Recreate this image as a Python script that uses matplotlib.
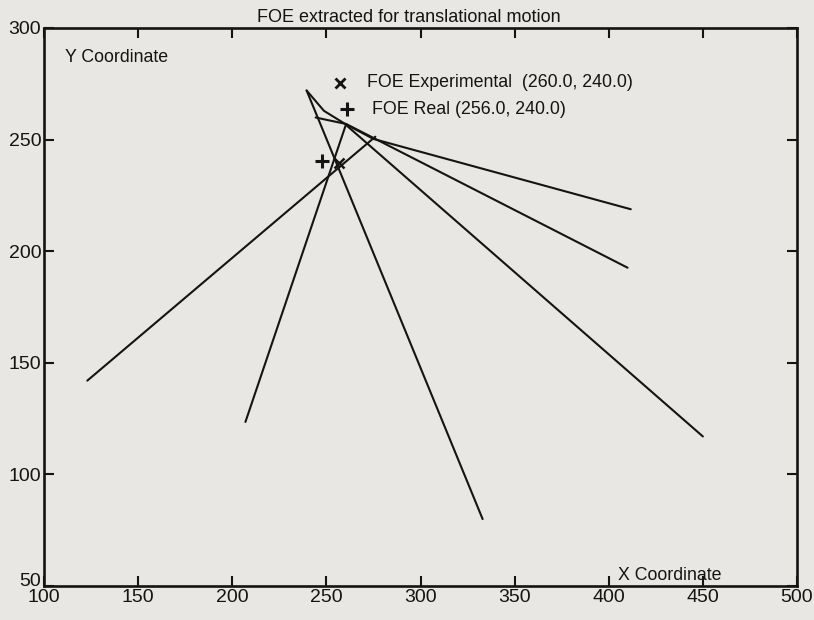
import matplotlib
matplotlib.use("Agg")
import matplotlib.pyplot as plt
from matplotlib.transforms import ScaledTranslation

plt.rcParams['font.family'] = ['Liberation Sans', 'DejaVu Sans']

# ---- data ----
title = "FOE extracted for translational motion"
x_label = "X Coordinate"
y_label = "Y Coordinate"
x_ticks = [100, 150, 200, 250, 300, 350, 400, 450, 500]
y_ticks = [50, 100, 150, 200, 250, 300]

# flow lines (polylines)
line1_x = [123, 276]
line1_y = [142, 251.3]
line2_x = [207, 260.5]
line2_y = [123.5, 257]
line3_x = [239.5, 333]
line3_y = [272, 80]
upper_x = [239.5, 248.7, 260, 275, 411.7]
upper_y = [272, 262.9, 257, 250.3, 218.8]
inner_x = [244.3, 260.5]
inner_y = [259.9, 257]
line4_x = [260.5, 410]
line4_y = [257, 192.6]
line6_x = [260.5, 450]
line6_y = [256.5, 117]

foe_real = (247.6, 240.3)
foe_exp = (256.6, 239.6)
legend_exp_text = "FOE Experimental  (260.0, 240.0)"
legend_real_text = "FOE Real (256.0, 240.0)"

bg = '#e9e7e3'
ink = '#141414'

fig = plt.figure(figsize=(8.14, 6.2), dpi=100, facecolor=bg)
ax = fig.add_axes([44 / 814, 1 - 586 / 620, (797 - 44) / 814, (586 - 28) / 620])
ax.set_facecolor(bg)

for xs, ys in [(line1_x, line1_y), (line2_x, line2_y), (line3_x, line3_y),
               (upper_x, upper_y), (inner_x, inner_y), (line4_x, line4_y),
               (line6_x, line6_y)]:
    ax.plot(xs, ys, color=ink, lw=1.5, solid_joinstyle='round', solid_capstyle='round')

ax.plot([foe_real[0]], [foe_real[1]], marker='+', ms=10, mew=2.2, color=ink, ls='none')
ax.plot([foe_exp[0]], [foe_exp[1]], marker='x', ms=7, mew=1.8, color=ink, ls='none')

# legend-like annotations
ax.plot([257.5], [275.4], marker='x', ms=7, mew=2.0, color=ink, ls='none')
ax.text(271.5, 275.4, legend_exp_text, fontsize=12.8, va='center', ha='left', color=ink)
ax.plot([261], [263.7], marker='+', ms=10, mew=2.2, color=ink, ls='none')
ax.text(274.5, 263.7, legend_real_text, fontsize=12.8, va='center', ha='left', color=ink)

ax.text(111, 286.6, y_label, fontsize=12.8, va='center', ha='left', color=ink)
ax.text(405, 54.8, x_label, fontsize=12.8, va='center', ha='left', color=ink)
ax.text(0.484, 1.004, title, transform=ax.transAxes, fontsize=13, ha='center', va='bottom', color=ink)

ax.set_xlim(100, 500)
ax.set_ylim(50, 300)
ax.set_xticks(x_ticks)
ax.set_yticks(y_ticks)
ax.tick_params(direction='in', length=7, width=1.5, top=True, right=True,
               labelsize=14, pad=2, colors=ink)
for s in ax.spines.values():
    s.set_linewidth(1.9)
    s.set_color(ink)

# nudge the lowest y label up a little, as in the reference
lab0 = ax.get_yticklabels()[0]
lab0.set_transform(lab0.get_transform() + ScaledTranslation(0, 5 / 72, fig.dpi_scale_trans))

fig.savefig('out.png', dpi=100, facecolor=bg)
